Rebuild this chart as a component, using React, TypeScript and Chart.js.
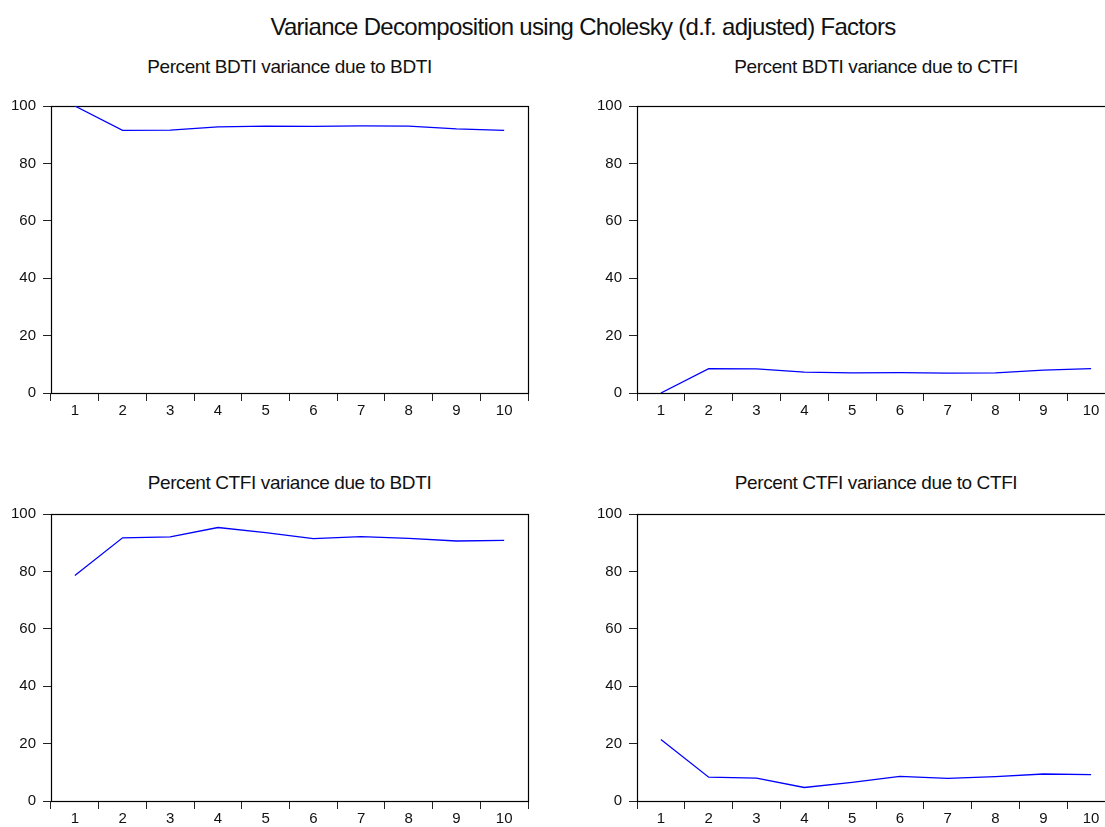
import React, { useEffect, useRef } from "react";
import { Chart, registerables } from "chart.js";

Chart.register(...registerables);

// ---- data ----
const periods = ["1", "2", "3", "4", "5", "6", "7", "8", "9", "10"];
const bdtiDueToBdti = [100, 91.5, 91.6, 92.7, 93.0, 92.9, 93.1, 93.0, 92.0, 91.5];
const bdtiDueToCtfi = [0, 8.5, 8.4, 7.3, 7.0, 7.1, 6.9, 7.0, 8.0, 8.5];
const ctfiDueToBdti = [78.6, 91.7, 92.0, 95.3, 93.5, 91.4, 92.1, 91.5, 90.6, 90.8];
const ctfiDueToCtfi = [21.4, 8.3, 8.0, 4.7, 6.5, 8.6, 7.9, 8.5, 9.4, 9.2];
const yMin = 0;
const yMax = 100;
const yStep = 20;

const mainTitle = "Variance Decomposition using Cholesky (d.f. adjusted) Factors";

const FONT = "'Liberation Sans', Arial, sans-serif";

const boxPlugin = {
  id: "plotBox",
  beforeDatasetsDraw(chart: any) {
    const { ctx, chartArea: a } = chart;
    ctx.save();
    ctx.strokeStyle = "#000";
    ctx.lineWidth = 1.2;
    ctx.strokeRect(Math.round(a.left) + 0.5, Math.round(a.top) + 0.5, Math.round(a.right - a.left), Math.round(a.bottom - a.top));
    ctx.restore();
  },
};

type PanelProps = {
  title: string;
  titleCenterY: number;
  values: number[];
  left: number;
  top: number;
  width: number;
  height: number;
  yAxisWidth: number;
  padTop: number;
  xAxisHeight: number;
  padRight: number;
};

function Panel(p: PanelProps) {
  const ref = useRef<HTMLCanvasElement | null>(null);
  useEffect(() => {
    if (!ref.current) return;
    const chart = new Chart(ref.current, {
      type: "line",
      data: {
        labels: periods,
        datasets: [
          {
            data: p.values,
            borderColor: "#0000ff",
            borderWidth: 1.3,
            pointRadius: 0,
            tension: 0,
            fill: false,
          },
        ],
      },
      options: {
        animation: false,
        responsive: false,
        devicePixelRatio: 1,
        layout: { padding: { top: p.padTop, right: p.padRight, left: 0, bottom: 0 } },
        plugins: { legend: { display: false }, tooltip: { enabled: false }, title: { display: false } },
        scales: {
          x: {
            type: "category",
            offset: true,
            grid: { display: true, offset: true, drawOnChartArea: false, drawTicks: true, tickLength: 8, color: "#222", lineWidth: 1 },
            border: { display: false },
            ticks: { color: "#111", font: { family: FONT, size: 15 }, padding: 1, autoSkip: false, maxRotation: 0 },
            afterFit: (s: any) => {
              s.height = p.xAxisHeight;
            },
          },
          y: {
            min: yMin,
            max: yMax,
            grid: { drawOnChartArea: false, drawTicks: true, tickLength: 8, color: "#222", lineWidth: 1 },
            border: { display: false },
            ticks: { stepSize: yStep, color: "#111", font: { family: FONT, size: 15 }, padding: 7 },
            afterFit: (s: any) => {
              s.width = p.yAxisWidth;
            },
          },
        },
      },
      plugins: [boxPlugin],
    });
    return () => chart.destroy();
  }, []);
  const plotLeft = p.left + p.yAxisWidth;
  const plotWidth = p.width - p.yAxisWidth - p.padRight;
  return (
    <>
      <div
        style={{
          position: "absolute",
          left: plotLeft,
          top: p.titleCenterY - 11,
          width: plotWidth,
          textAlign: "center",
          fontFamily: FONT,
          fontSize: 19,
          letterSpacing: "-0.4px",
          lineHeight: "22px",
          color: "#111",
          whiteSpace: "nowrap",
        }}
      >
        {p.title}
      </div>
      <canvas
        ref={ref}
        width={p.width}
        height={p.height}
        style={{ position: "absolute", left: p.left, top: p.top, width: p.width, height: p.height }}
      />
    </>
  );
}

export default function App() {
  return (
    <div
      style={{
        position: "absolute",
        left: 0,
        top: 0,
        width: 1105,
        height: 827,
        overflow: "hidden",
        background: "#fff",
      }}
    >
      <div
        style={{
          position: "absolute",
          left: 0,
          top: 13,
          width: 1166,
          textAlign: "center",
          fontFamily: FONT,
          fontSize: 24,
          letterSpacing: "-0.7px",
          lineHeight: "28px",
          color: "#111",
          whiteSpace: "nowrap",
        }}
      >
        {mainTitle}
      </div>
      <Panel title="Percent BDTI variance due to BDTI" titleCenterY={67} values={bdtiDueToBdti} left={0} top={80} width={545} height={350} yAxisWidth={51} padTop={26} xAxisHeight={37} padRight={17} />
      <Panel title="Percent BDTI variance due to CTFI" titleCenterY={67} values={bdtiDueToCtfi} left={560} top={80} width={570} height={350} yAxisWidth={77} padTop={26} xAxisHeight={37} padRight={15} />
      <Panel title="Percent CTFI variance due to BDTI" titleCenterY={483} values={ctfiDueToBdti} left={0} top={488} width={545} height={350} yAxisWidth={51} padTop={26} xAxisHeight={37} padRight={17} />
      <Panel title="Percent CTFI variance due to CTFI" titleCenterY={483} values={ctfiDueToCtfi} left={560} top={488} width={570} height={350} yAxisWidth={77} padTop={26} xAxisHeight={37} padRight={15} />
    </div>
  );
}
